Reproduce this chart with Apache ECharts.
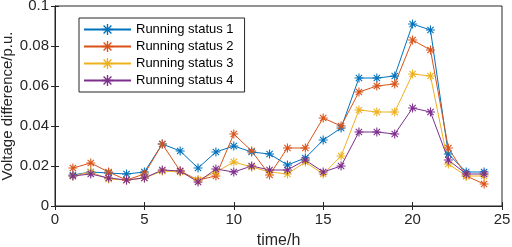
<!DOCTYPE html>
<html>
<head>
<meta charset="utf-8">
<script src="https://cdn.jsdelivr.net/npm/echarts@6/dist/echarts.min.js"></script>
<style>
  html, body { margin: 0; padding: 0; background: #fff; }
  #chart { width: 512px; height: 247px; }
</style>
</head>
<body>
<div id="chart"></div>
<script>
// hours 1..24
var hours = [1, 2, 3, 4, 5, 6, 7, 8, 9, 10, 11, 12, 13, 14, 15, 16, 17, 18, 19, 20, 21, 22, 23, 24]
var status1 = [0.0155, 0.017, 0.0165, 0.016, 0.017, 0.031, 0.0275, 0.019, 0.027, 0.030, 0.027, 0.026, 0.0205, 0.024, 0.033, 0.039, 0.064, 0.064, 0.065, 0.091, 0.088, 0.026, 0.017, 0.017]
var status2 = [0.019, 0.0215, 0.017, 0.013, 0.016, 0.031, 0.0175, 0.013, 0.015, 0.036, 0.0275, 0.0155, 0.029, 0.029, 0.044, 0.040, 0.057, 0.060, 0.061, 0.083, 0.078, 0.029, 0.015, 0.011]
var status3 = [0.015, 0.017, 0.0135, 0.013, 0.014, 0.0175, 0.017, 0.013, 0.017, 0.022, 0.0195, 0.017, 0.016, 0.022, 0.016, 0.025, 0.048, 0.047, 0.047, 0.066, 0.065, 0.021, 0.015, 0.015]
var status4 = [0.015, 0.016, 0.014, 0.013, 0.014, 0.018, 0.0175, 0.012, 0.0185, 0.017, 0.020, 0.018, 0.018, 0.023, 0.017, 0.020, 0.037, 0.037, 0.036, 0.049, 0.047, 0.023, 0.016, 0.016]
var names = ['Running status 1', 'Running status 2', 'Running status 3', 'Running status 4']
var colors = ['#0072BD', '#D95319', '#EDB120', '#7E2F8E']

// matlab style '*' marker
var star = 'path://M-10,-1.2H10V1.2H-10Z' +
  'M-1.2,-10H1.2V10H-1.2Z' +
  'M-6.15,-7.85L7.85,6.15L6.15,7.85L-7.85,-6.15Z' +
  'M-7.85,6.15L6.15,-7.85L7.85,-6.15L-6.15,7.85Z'

function pairs(vals) {
  return hours.map(function (h, i) { return [h, vals[i]] })
}

function makeSeries(name, vals, color) {
  return {
    name: name,
    type: 'line',
    data: pairs(vals),
    symbol: star,
    symbolSize: 9,
    showSymbol: true,
    animation: false,
    itemStyle: { color: color },
    lineStyle: { width: 1, color: color }
  }
}

var chart = echarts.init(document.getElementById('chart'))
var axisColor = '#262626'
var font = 'Liberation Sans, Arial'
var tickFont = { color: '#262626', fontSize: 15, fontFamily: font }

chart.setOption({
  animation: false,
  color: colors,
  grid: {
    left: 55,
    right: 10,
    top: 6,
    bottom: 41,
    outerBoundsMode: 'none',
    containLabel: false,
    show: true,
    borderColor: axisColor,
    borderWidth: 1,
    backgroundColor: '#fff'
  },
  legend: {
    orient: 'vertical',
    left: 79,
    top: 18,
    padding: [5, 11, 5, 4],
    itemGap: 4,
    itemWidth: 47,
    itemHeight: 14,
    borderColor: axisColor,
    borderWidth: 1,
    backgroundColor: '#fff',
    textStyle: { color: '#000', fontSize: 13, fontFamily: font },
    data: names
  },
  xAxis: [
    {
      type: 'value',
      min: 0,
      max: 25,
      interval: 5,
      name: 'time/h',
      nameLocation: 'middle',
      nameGap: 27,
      nameMoveOverlap: false,
      nameTextStyle: { color: '#262626', fontSize: 16, fontFamily: font },
      axisLine: { show: true, lineStyle: { color: axisColor } },
      axisTick: { show: true, inside: true, length: 4, lineStyle: { color: axisColor } },
      axisLabel: Object.assign({ margin: 6 }, tickFont),
      splitLine: { show: false }
    },
    {
      type: 'value',
      position: 'top',
      min: 0,
      max: 25,
      interval: 5,
      axisLine: { show: true, lineStyle: { color: axisColor } },
      axisTick: { show: true, inside: true, length: 4, lineStyle: { color: axisColor } },
      axisLabel: { show: false },
      splitLine: { show: false }
    }
  ],
  yAxis: [
    {
      type: 'value',
      min: 0,
      max: 0.1,
      interval: 0.02,
      name: 'Voltage difference/p.u.',
      nameLocation: 'middle',
      nameGap: 40,
      nameMoveOverlap: false,
      nameTextStyle: { color: '#262626', fontSize: 15, fontFamily: font },
      axisLine: { show: true, lineStyle: { color: axisColor } },
      axisTick: { show: true, inside: true, length: 4, lineStyle: { color: axisColor } },
      axisLabel: Object.assign({ margin: 6 }, tickFont),
      splitLine: { show: false }
    },
    {
      type: 'value',
      position: 'right',
      min: 0,
      max: 0.1,
      interval: 0.02,
      axisLine: { show: true, lineStyle: { color: axisColor } },
      axisTick: { show: true, inside: true, length: 4, lineStyle: { color: axisColor } },
      axisLabel: { show: false },
      splitLine: { show: false }
    }
  ],
  series: [
    makeSeries(names[0], status1, colors[0]),
    makeSeries(names[1], status2, colors[1]),
    makeSeries(names[2], status3, colors[2]),
    makeSeries(names[3], status4, colors[3])
  ]
})
</script>
</body>
</html>
